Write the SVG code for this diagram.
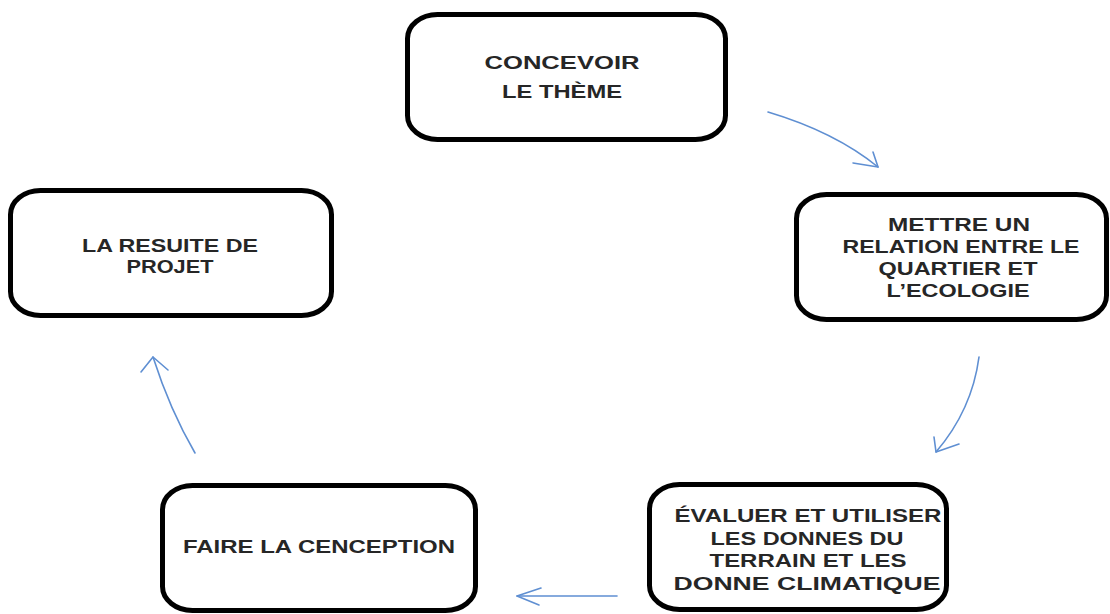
<svg xmlns="http://www.w3.org/2000/svg" width="1110" height="614" viewBox="0 0 1110 614">
<style>
.box{fill:#fff;stroke:#000;stroke-width:5}
.t{font-family:"Liberation Sans",Arial,sans-serif;font-size:18px;font-weight:bold;fill:#262626;text-anchor:middle}
.c{fill:none;stroke:#5f8fd2;stroke-width:1.6;stroke-linecap:round;stroke-linejoin:round}
</style>
<rect width="1110" height="614" fill="#fff"/>
<g id="n1">
<rect class="box" x="407.5" y="14.5" width="318" height="125" rx="30" ry="24"/>
<text class="t" x="562" y="69" textLength="155" lengthAdjust="spacingAndGlyphs">CONCEVOIR</text>
<text class="t" x="562" y="98" textLength="120" lengthAdjust="spacingAndGlyphs">LE THÈME</text>
</g>
<g id="n2">
<rect class="box" x="796.5" y="194.5" width="310" height="125" rx="30" ry="24"/>
<text class="t" x="959" y="231" textLength="142" lengthAdjust="spacingAndGlyphs">METTRE UN</text>
<text class="t" x="961" y="253" textLength="237" lengthAdjust="spacingAndGlyphs">RELATION ENTRE LE</text>
<text class="t" x="958" y="275" textLength="159" lengthAdjust="spacingAndGlyphs">QUARTIER ET</text>
<text class="t" x="958" y="297" textLength="143" lengthAdjust="spacingAndGlyphs">L’ECOLOGIE</text>
</g>
<g id="n3">
<rect class="box" x="649.5" y="484.5" width="297" height="125" rx="30" ry="24"/>
<text class="t" x="808" y="522" textLength="267" lengthAdjust="spacingAndGlyphs">ÉVALUER ET UTILISER</text>
<text class="t" x="807" y="545" textLength="193" lengthAdjust="spacingAndGlyphs">LES DONNES DU</text>
<text class="t" x="808" y="567" textLength="197" lengthAdjust="spacingAndGlyphs">TERRAIN ET LES</text>
<text class="t" x="807" y="590" textLength="267" lengthAdjust="spacingAndGlyphs">DONNE CLIMATIQUE</text>
</g>
<g id="n4">
<rect class="box" x="162.5" y="485.5" width="313" height="125" rx="30" ry="24"/>
<text class="t" x="319" y="553" textLength="272" lengthAdjust="spacingAndGlyphs">FAIRE LA CENCEPTION</text>
</g>
<g id="n5">
<rect class="box" x="10.5" y="190.5" width="321" height="125" rx="30" ry="24"/>
<text class="t" x="170" y="252" textLength="176" lengthAdjust="spacingAndGlyphs">LA RESUITE DE</text>
<text class="t" x="170" y="273" textLength="87" lengthAdjust="spacingAndGlyphs">PROJET</text>
</g>
<g id="connectors">
<path class="c" d="M768,112 Q835,132 878,167"/>
<path class="c" d="M873,152 L878,167 L853,163"/>
<path class="c" d="M979,357 Q972,410 936,452"/>
<path class="c" d="M934,437 L936,452 L959,444"/>
<path class="c" d="M617,596 L517,596"/>
<path class="c" d="M541,588 L517,596 L539,605"/>
<path class="c" d="M195,453 Q170,410 153,357"/>
<path class="c" d="M141,372 L153,357 L168,370"/>
</g>
</svg>
